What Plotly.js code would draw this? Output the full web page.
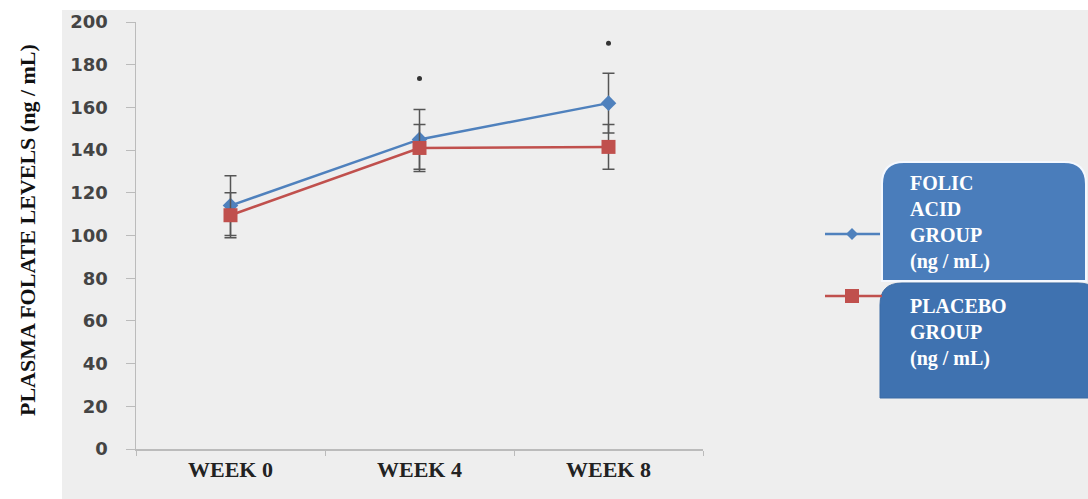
<!DOCTYPE html>
<html><head><meta charset="utf-8">
<script src="https://cdn.plot.ly/plotly-3.0.1.min.js"></script>
<style>body{margin:0;background:#fff}#chart{width:1088px;height:499px}</style>
</head><body><div id="chart"></div>
<script>
const categories = ["WEEK 0", "WEEK 4", "WEEK 8"];
const folicMean = [114, 145, 162];
const folicErr = [14, 14, 14];
const placeboMean = [109.5, 141, 141.5];
const placeboErr = [10.5, 11, 10.5];
const starCats = ["WEEK 4", "WEEK 8"];
const starValues = [173.5, 190];
const yTicks = [0, 20, 40, 60, 80, 100, 120, 140, 160, 180, 200];
const yTitle = 'PLASMA FOLATE LEVELS (ng / mL)';
const legendLabels = ["FOLIC<br>ACID<br>GROUP<br>(ng / mL)", "PLACEBO<br>GROUP<br>(ng / mL)"];

const W = 1088, H = 499;
const M = {l: 136, r: 385, t: 22, b: 50};
const PW = W - M.l - M.r, PH = H - M.t - M.b;
const px = p => (p - M.l) / PW;
const py = p => (H - M.b - p) / PH;

const blue = '#4f81bd', red = '#c0504d', boxBlue = '#4a7dbb';

const traces = [
  {x: categories, y: folicMean, type: 'scatter', mode: 'lines+markers',
   line: {color: blue, width: 2.5},
   marker: {symbol: 'diamond', size: 12, color: blue},
   error_y: {type: 'data', array: folicErr, visible: true, color: '#555', thickness: 1.5, width: 6},
   showlegend: false, hoverinfo: 'skip'},
  {x: categories, y: placeboMean, type: 'scatter', mode: 'lines+markers',
   line: {color: red, width: 2.5},
   marker: {symbol: 'square', size: 14, color: red},
   error_y: {type: 'data', array: placeboErr, visible: true, color: '#555', thickness: 1.5, width: 6},
   showlegend: false, hoverinfo: 'skip'},
  {x: starCats, y: starValues, type: 'scatter', mode: 'markers',
   marker: {symbol: 'circle', size: 5, color: '#333'},
   showlegend: false, hoverinfo: 'skip'}
];

function roundBox(x0, y0, x1, y1, r) {
  const X = v => px(v), Y = v => py(v);
  return `M ${X(x0)},${Y(y1)} L ${X(x0)},${Y(y0 + r)} Q ${X(x0)},${Y(y0)} ${X(x0 + r)},${Y(y0)} ` +
         `L ${X(x1 - r)},${Y(y0)} Q ${X(x1)},${Y(y0)} ${X(x1)},${Y(y0 + r)} L ${X(x1)},${Y(y1)} Z`;
}

const shapes = [
  {type: 'rect', xref: 'paper', yref: 'paper', x0: px(0), x1: px(62), y0: py(H), y1: py(0),
   fillcolor: '#ffffff', line: {width: 0}, layer: 'below'},
  {type: 'rect', xref: 'paper', yref: 'paper', x0: px(0), x1: px(W), y0: py(10), y1: py(0),
   fillcolor: '#ffffff', line: {width: 0}, layer: 'below'},
  {type: 'path', xref: 'paper', yref: 'paper', path: roundBox(880, 283, 1100, 398, 22),
   fillcolor: '#3f72b0', line: {color: '#3a6aa5', width: 1}},
  {type: 'path', xref: 'paper', yref: 'paper', path: roundBox(882, 162, 1086, 281, 22),
   fillcolor: boxBlue, line: {color: '#f4f8ff', width: 2}},
  {type: 'line', xref: 'paper', yref: 'paper', x0: px(825), x1: px(880), y0: py(234), y1: py(234),
   line: {color: blue, width: 2.5}},
  {type: 'line', xref: 'paper', yref: 'paper', x0: px(825), x1: px(882), y0: py(296), y1: py(296),
   line: {color: red, width: 2.5}},
  {type: 'path', xref: 'paper', yref: 'paper',
   path: `M ${px(846)},${py(234)} L ${px(852)},${py(228)} L ${px(858)},${py(234)} L ${px(852)},${py(240)} Z`,
   fillcolor: blue, line: {width: 0}},
  {type: 'rect', xref: 'paper', yref: 'paper', x0: px(845), x1: px(859), y0: py(303), y1: py(289),
   fillcolor: red, line: {width: 0}}
];

const annotations = [
  {xref: 'paper', yref: 'paper', x: px(27), y: py(230), xanchor: 'center', yanchor: 'middle',
   textangle: -90, text: yTitle, showarrow: false,
   font: {family: 'Liberation Serif', size: 22, color: '#111', weight: 'bold'}},
  {xref: 'paper', yref: 'paper', x: px(908), y: py(170), xanchor: 'left', yanchor: 'top', align: 'left',
   text: legendLabels[0], showarrow: false,
   font: {family: 'Liberation Serif', size: 20, color: '#ffffff', weight: 'bold'}},
  {xref: 'paper', yref: 'paper', x: px(908), y: py(293), xanchor: 'left', yanchor: 'top', align: 'left',
   text: legendLabels[1], showarrow: false,
   font: {family: 'Liberation Serif', size: 20, color: '#ffffff', weight: 'bold'}}
];

const layout = {
  width: W, height: H,
  margin: M,
  paper_bgcolor: '#eeeeee', plot_bgcolor: '#eeeeee',
  showlegend: false,
  xaxis: {
    type: 'category', range: [-0.5, 2.5], tickson: 'boundaries',
    ticks: 'outside', ticklen: 5, tickcolor: '#bbbbbb',
    showline: true, linecolor: '#bbbbbb', linewidth: 1.5, showgrid: false, zeroline: false,
    tickfont: {family: 'Liberation Serif', size: 22, color: '#222', weight: 'bold'}
  },
  yaxis: {
    range: [0, 200], tickvals: yTicks, ticktext: yTicks.map(String),
    ticks: 'outside', ticklen: 9, tickcolor: '#bbbbbb', ticklabelstandoff: 14,
    showline: true, linecolor: '#bbbbbb', linewidth: 1.5, showgrid: false, zeroline: false,
    tickfont: {family: 'DejaVu Sans', size: 18, color: '#444', weight: 'bold'}
  },
  shapes: shapes,
  annotations: annotations
};

Plotly.newPlot('chart', traces, layout, {displayModeBar: false, staticPlot: true});
</script></body></html>
